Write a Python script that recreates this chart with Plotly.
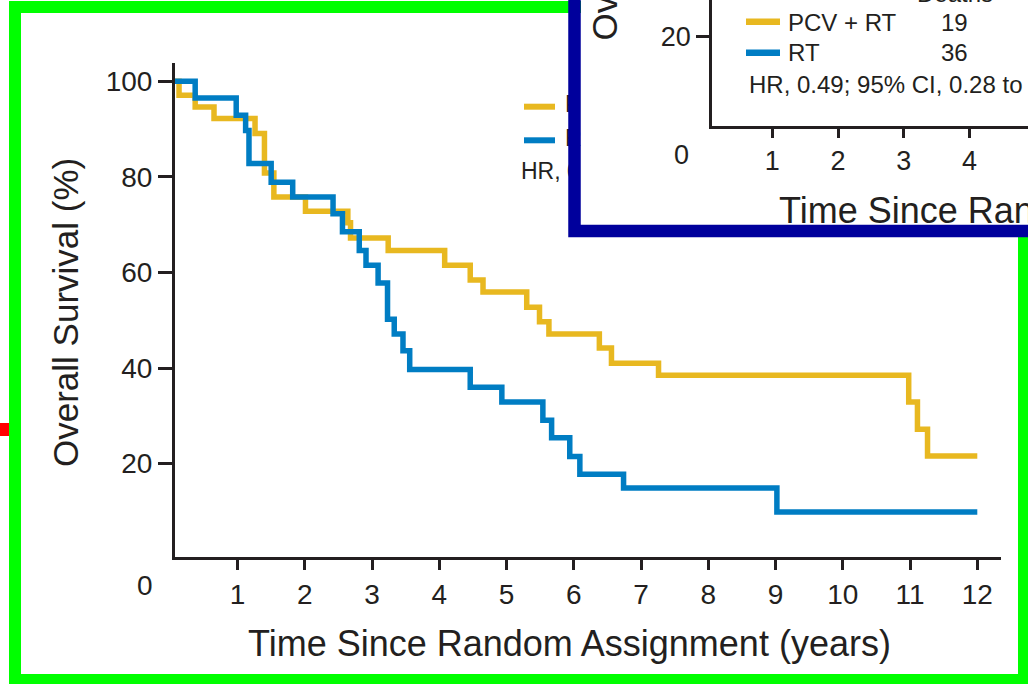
import plotly.graph_objects as go

W, H = 1028, 684

# ---------------- data ----------------
pcv_rt_years = [0, 0.13, 0.37, 0.65, 1.26, 1.40, 1.54, 2.01, 2.64, 2.68, 3.24, 4.08,
                4.46, 4.65, 5.30, 5.49, 5.63, 6.38, 6.56, 7.26, 10.98, 11.11, 11.26, 12.0]
pcv_rt_survival = [100, 97.1, 94.6, 92.2, 89.1, 80.8, 75.8, 72.8, 70.4, 67.2, 64.6, 61.5,
                   58.4, 55.9, 52.7, 49.7, 47.1, 44.2, 41.0, 38.5, 32.9, 27.2, 21.6, 21.6]
rt_years = [0, 0.37, 0.98, 1.12, 1.17, 1.50, 1.82, 2.42, 2.56, 2.81, 2.91, 3.09, 3.23,
            3.33, 3.46, 3.56, 4.46, 4.93, 5.54, 5.67, 5.94, 6.09, 6.74, 9.02, 12.0]
rt_survival = [100, 96.5, 92.9, 89.7, 82.8, 78.9, 75.8, 72.3, 68.5, 64.6, 61.5, 57.8, 50.2,
               47.1, 43.6, 39.7, 36.0, 32.9, 29.1, 25.4, 21.5, 17.8, 14.9, 9.9, 9.9]
series_names = ["PCV + RT", "RT"]
deaths = [19, 36]
deaths_header = "Deaths"
hr_label = "HR, 0.49; 95% CI, 0.28 to 0.86"
x_tick_values = [1, 2, 3, 4, 5, 6, 7, 8, 9, 10, 11, 12]
y_tick_values = [20, 40, 60, 80, 100]
inset_x_tick_values = [1, 2, 3, 4, 5]
inset_y_tick_values = [20]
x_title = "Time Since Random Assignment (years)"
y_title = "Overall Survival (%)"

# ---------------- styling ----------------
YELLOW = "#E8B820"
BLUE = "#007DC3"
INK = "#231F20"
GREEN = "#00FF00"
NAVY = "#00009C"
FONT = "Liberation Sans, Arial, Helvetica, sans-serif"


def fx(p):
    return p / W


def fy(p):
    return 1 - p / H


# main plot calibration (pixel of 0 and pixels per unit)
MX0, MXS = 170.3, 67.25
MY0, MYS = 559.2, 4.779
# inset plot calibration
IX0, IXS = 706.6, 65.7
IY0, IYS = 127.5, 4.54


def dx(p):
    return (p - MX0) / MXS


def dy(p):
    return (MY0 - p) / MYS


def ix(p):
    return (p - IX0) / IXS


def iy(p):
    return (IY0 - p) / IYS


fig = go.Figure()
fig.add_trace(go.Scatter(x=pcv_rt_years, y=pcv_rt_survival, mode="lines", name=series_names[0],
                         line=dict(color=YELLOW, width=5.5, shape="hv"), hoverinfo="skip"))
fig.add_trace(go.Scatter(x=rt_years, y=rt_survival, mode="lines", name=series_names[1],
                         line=dict(color=BLUE, width=5.5, shape="hv"), hoverinfo="skip"))
# main legend text (mostly hidden under the inset)
fig.add_trace(go.Scatter(x=[dx(565), dx(565), dx(521)], y=[dy(106.7), dy(140.3), dy(173)],
                         mode="text", text=[series_names[0], series_names[1], hr_label],
                         textposition="middle right",
                         textfont=dict(family=FONT, size=23, color=INK), hoverinfo="skip"))
# cover subplot and inset subplot
fig.add_trace(go.Scatter(x=[], y=[], xaxis="x2", yaxis="y2", hoverinfo="skip"))
fig.add_trace(go.Scatter(x=[], y=[], xaxis="x3", yaxis="y3", hoverinfo="skip"))

axis_common = dict(showline=True, linewidth=3, linecolor=INK, ticks="outside", tickwidth=3,
                   tickcolor=INK, showgrid=False, zeroline=False, fixedrange=True)

fig.update_layout(
    width=W, height=H, margin=dict(l=0, r=0, t=0, b=0),
    paper_bgcolor="#ffffff", plot_bgcolor="#ffffff", showlegend=False,
    xaxis=dict(domain=[fx(175), fx(1000.7)], range=[dx(175), dx(1000.7)], tickvals=x_tick_values,
               ticklen=10, anchor="y", tickfont=dict(family=FONT, size=28, color=INK), **axis_common),
    yaxis=dict(domain=[fy(557), fy(63.3)], range=[dy(557), dy(63.3)], tickvals=y_tick_values,
               ticklen=14, anchor="x", tickfont=dict(family=FONT, size=28, color=INK), **axis_common),
    xaxis2=dict(domain=[fx(581), 1], range=[0, 1], visible=False, anchor="y2", fixedrange=True),
    yaxis2=dict(domain=[fy(225), 1], range=[0, 1], visible=False, anchor="x2", fixedrange=True),
    xaxis3=dict(domain=[fx(712.2), 1], range=[ix(712.2), ix(1028)], tickvals=inset_x_tick_values,
                ticklen=9, anchor="y3", tickfont=dict(family=FONT, size=27, color=INK), **axis_common),
    yaxis3=dict(domain=[fy(126), 1], range=[iy(126), iy(0)], tickvals=inset_y_tick_values,
                ticklen=13, anchor="x3", tickfont=dict(family=FONT, size=27, color=INK), **axis_common),
)


def ann(text, x, y, size, xanchor="center", yanchor="middle", angle=0):
    return dict(text=text, x=fx(x), y=fy(y), xref="paper", yref="paper", showarrow=False,
                xanchor=xanchor, yanchor=yanchor, textangle=angle, borderpad=0,
                font=dict(family=FONT, size=size, color=INK))


annotations = [
    ann("0", 144.5, 585, 28),
    ann(x_title, 569, 643, 36),
    ann(y_title, 65.5, 312.5, 35, angle=-90),
    # inset texts
    ann("0", 681.7, 155, 27),
    ann(x_title, 778, 210, 36, xanchor="left"),
    ann(y_title, 604, 42, 35, yanchor="bottom", angle=-90),
    ann(series_names[0], 786.7, 22, 24, xanchor="left"),
    ann(series_names[1], 786.7, 52.7, 24, xanchor="left"),
    ann(str(deaths[0]), 954, 22, 24),
    ann(str(deaths[1]), 954, 52.7, 24),
    ann(hr_label, 748, 85, 24, xanchor="left"),
    ann(deaths_header, 955, -6, 24),
]

shapes = [
    dict(type="rect", xref="paper", yref="paper", x0=fx(15), x1=fx(1024), y0=fy(680), y1=fy(7),
         line=dict(color=GREEN, width=12), fillcolor="rgba(0,0,0,0)", layer="below"),
    dict(type="rect", xref="paper", yref="paper", x0=0, x1=fx(9), y0=fy(436), y1=fy(423),
         line=dict(width=0), fillcolor="#FF0000", layer="above"),
    dict(type="rect", xref="paper", yref="paper", x0=fx(574.5), x1=fx(1045), y0=fy(231), y1=fy(-20),
         line=dict(color=NAVY, width=12.5), fillcolor="rgba(0,0,0,0)", layer="above"),
    dict(type="line", xref="paper", yref="paper", x0=fx(524), x1=fx(555), y0=fy(106.7), y1=fy(106.7),
         line=dict(color=YELLOW, width=6), layer="above"),
    dict(type="line", xref="paper", yref="paper", x0=fx(524), x1=fx(555), y0=fy(140.3), y1=fy(140.3),
         line=dict(color=BLUE, width=6), layer="above"),
    dict(type="line", xref="paper", yref="paper", x0=fx(746), x1=fx(780), y0=fy(21.7), y1=fy(21.7),
         line=dict(color=YELLOW, width=6.5), layer="above"),
    dict(type="line", xref="paper", yref="paper", x0=fx(746), x1=fx(780), y0=fy(52.7), y1=fy(52.7),
         line=dict(color=BLUE, width=6.5), layer="above"),
]

fig.update_layout(annotations=annotations, shapes=shapes)
fig.write_html(
    "out.html",
    config={"displayModeBar": False},
    post_script="document.body.style.margin='0px';document.body.style.overflow='hidden';",
)
